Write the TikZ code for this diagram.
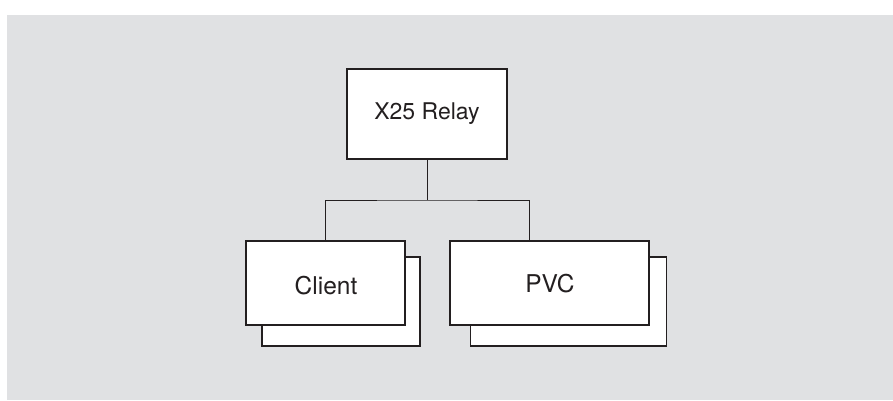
\documentclass[tikz,border=0pt]{standalone}
\usepackage{fontspec}
\setmainfont{TeX Gyre Heros}
\definecolor{bggray}{RGB}{224,225,227}
\definecolor{ink}{RGB}{35,31,32}
\begin{document}
\begin{tikzpicture}[x=1pt,y=-1pt,
  box/.style={draw=ink,fill=white,line width=1.7pt,rectangle,inner sep=0pt,
    font=\fontsize{23}{27}\selectfont,text=ink},
  bigtext/.style={font=\fontsize{24.5}{29}\selectfont},
  conn/.style={draw=ink,line width=0.9pt}]
\useasboundingbox (0,0) rectangle (893,400);
\fill[bggray] (7,15) rectangle (893,400);
% top box
\node[box,minimum width=160pt,minimum height=90pt] (relay) at (427,114) {X25 Relay};
% client stack
\node[box,minimum width=158pt,minimum height=89pt] (clientback) at (341.3,301.5) {};
\node[box,bigtext,minimum width=159pt,minimum height=84pt] (client) at (325.7,283) {};
\node[bigtext,text=ink,inner sep=0pt] (clienttext) at (326,286) {Client};
% pvc stack
\node[box,minimum width=196pt,minimum height=89pt] (pvcback) at (568.5,301.5) {};
\node[box,bigtext,minimum width=199pt,minimum height=84pt] (pvc) at (549.4,283) {};
\node[bigtext,text=ink,inner sep=0pt] (pvctext) at (550,284) {PVC};
% connectors
\coordinate (j) at (427,200);
\draw[conn] (relay.south) -- (j);
\draw[conn] (client.north) |- (j) -| ([xshift=-20pt]pvc.north);
\end{tikzpicture}
\end{document}
